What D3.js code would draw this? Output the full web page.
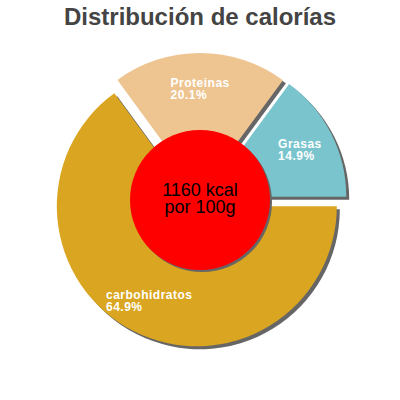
<!DOCTYPE html>
<html>
<head>
<meta charset="utf-8">
<script src="https://cdn.jsdelivr.net/npm/d3@7"></script>
<style>
  body { margin: 0; background: #fff; }
  svg { font-family: "Liberation Sans", Arial, sans-serif; }
</style>
</head>
<body>
<script>
// datos
var categories = ["carbohidratos", "Proteinas", "Grasas"];
var values = [64.9, 20.1, 14.9];
var colors = ["#DAA520", "#EEC591", "#7AC5CD"];
var centerLines = ["1160 kcal", "por 100g"];

var width = 400, height = 400;
var cx = 200, cy = 200, radius = 140, explode = 7, labelR = 105;

var svg = d3.select("body").append("svg")
    .attr("width", width)
    .attr("height", height);

svg.append("text")
    .attr("x", width / 2)
    .attr("y", 25)
    .attr("text-anchor", "middle")
    .attr("font-size", 24)
    .attr("font-weight", "bold")
    .attr("fill", "#444")
    .text("Distribución de calorías");

var pie = d3.pie().sort(null)
    .startAngle(Math.PI / 2)
    .endAngle(Math.PI / 2 + 2 * Math.PI);

var arcs = pie(values);
var arc = d3.arc().innerRadius(0).outerRadius(radius);

// desplazamiento de cada porcion hacia afuera
function offset(d, r) {
  var a = (d.startAngle + d.endAngle) / 2;
  return [Math.sin(a) * r, -Math.cos(a) * r];
}

var g = svg.append("g").attr("transform", "translate(" + cx + "," + cy + ")");

// sombras
g.selectAll("path.shadow")
    .data(arcs)
    .enter()
    .append("path")
    .attr("class", "shadow")
    .attr("d", arc)
    .attr("fill", "#666")
    .attr("transform", function(d) {
      var o = offset(d, explode);
      return "translate(" + (o[0] + 3) + "," + (o[1] + 3) + ")";
    });

g.selectAll("path.slice")
    .data(arcs)
    .enter()
    .append("path")
    .attr("class", "slice")
    .attr("d", arc)
    .attr("fill", function(d, i) { return colors[i]; })
    .attr("transform", function(d) {
      var o = offset(d, explode);
      return "translate(" + o[0] + "," + o[1] + ")";
    });

// circulo central
g.append("circle").attr("cx", 2).attr("cy", 2).attr("r", 70).attr("fill", "#666");
g.append("circle").attr("r", 70).attr("fill", "#FF0000");

g.selectAll("text.center")
    .data(centerLines)
    .enter()
    .append("text")
    .attr("class", "center")
    .attr("text-anchor", "middle")
    .attr("y", function(d, i) { return -4 + i * 17; })
    .attr("font-size", 18)
    .attr("fill", "#000")
    .text(function(d) { return d; });

// etiquetas
var labels = g.selectAll("g.label")
    .data(arcs)
    .enter()
    .append("g")
    .attr("class", "label");

labels.each(function(d, i) {
  var lg = d3.select(this);
  var o = offset(d, explode);
  var c = offset(d, labelR);
  var px = o[0] + c[0], py = o[1] + c[1];
  var lines = [categories[i], values[i].toFixed(1) + "%"];
  var t = lg.selectAll("text")
      .data(lines)
      .enter()
      .append("text")
      .attr("font-size", 12)
      .attr("font-weight", "bold")
      .attr("letter-spacing", 0.5)
      .attr("fill", "#fff")
      .attr("y", function(s, j) { return py - 1 + j * 12; })
      .text(function(s) { return s; });
  var w = 0;
  t.each(function() { w = Math.max(w, this.getComputedTextLength()); });
  t.attr("x", px - w / 2);
});
</script>
</body>
</html>
